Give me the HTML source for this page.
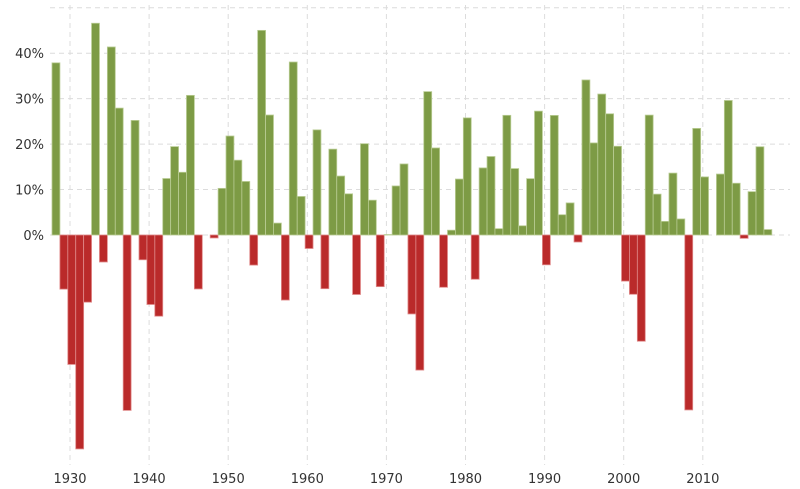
<!DOCTYPE html>
<html><head><meta charset="utf-8"><style>
html,body{margin:0;padding:0;background:#fff;width:800px;height:489px;overflow:hidden}
svg{display:block;font-family:"DejaVu Sans","Liberation Sans",sans-serif}
</style></head><body>
<svg id="chart" width="800" height="489" viewBox="0 0 800 489"></svg>
<script>
const years = [];
for (let y = 1928; y <= 2018; y++) years.push(y);
const returns = [37.88,-11.91,-28.48,-47.07,-14.78,46.59,-5.94,41.37,27.92,-38.59,25.21,-5.45,-15.29,-17.86,12.43,19.45,13.80,30.72,-11.87,0.00,-0.65,10.26,21.78,16.46,11.78,-6.62,45.02,26.40,2.62,-14.31,38.06,8.48,-2.97,23.13,-11.81,18.89,12.97,9.06,-13.09,20.09,7.66,-11.36,0.10,10.79,15.63,-17.37,-29.72,31.55,19.15,-11.50,1.06,12.31,25.77,-9.73,14.76,17.27,1.40,26.33,14.62,2.03,12.40,27.25,-6.56,26.31,4.46,7.06,-1.54,34.11,20.26,31.01,26.67,19.53,-10.14,-13.04,-23.37,26.38,8.99,3.00,13.62,3.53,-38.49,23.45,12.78,0.00,13.41,29.60,11.39,-0.73,9.54,19.42,1.2];
const yTicks = [0,10,20,30,40,50];
const yTickLabels = ["0%","10%","20%","30%","40%",""];
const xTicks = [1930,1940,1950,1960,1970,1980,1990,2000,2010];

const NS = "http://www.w3.org/2000/svg";
const svg = document.getElementById("chart");
const step = 7.91;
const xBar = y => 52 + (y - 1928) * step;
const xGrid = y => 70 + (y - 1930) * step;
const yScale = v => 235 - v * 4.545;
function mk(tag, attrs){const e=document.createElementNS(NS,tag);for(const k in attrs)e.setAttribute(k,attrs[k]);svg.appendChild(e);return e;}

yTicks.forEach((t,i)=>{
  const l = mk("line",{x1:50,x2:790,y1:yScale(t),y2:yScale(t),stroke:"#dcdcdc","stroke-dasharray":"5,4","stroke-width":1});
  
  
  if (yTickLabels[i]) {
    const tx = mk("text",{x:44,y:yScale(t)+5,"text-anchor":"end","font-size":13,fill:"#333"});
    tx.textContent = yTickLabels[i];
    
    
  }
});
xTicks.forEach(t=>{
  const l = mk("line",{x1:xGrid(t),x2:xGrid(t),y1:5,y2:465,stroke:"#dcdcdc","stroke-dasharray":"5,4","stroke-width":1});
  
  
  const tx = mk("text",{x:xGrid(t),y:483,"text-anchor":"middle","font-size":13,fill:"#333"});
  tx.textContent = t;
  
  
});
years.forEach((y,i)=>{
  const v = returns[i];
  if (v === 0) return;
  const y0 = yScale(0), y1 = yScale(v);
  const r = mk("rect",{x:xBar(y),y:Math.min(y0,y1),width:step,height:Math.abs(y1-y0),
    fill: v>0 ? "#7d9b45" : "#ba2a2a", stroke: v>0 ? "#b9cc94" : "#e08a8a", "stroke-width":0.8});
  
  
});
</script>
</body></html>
